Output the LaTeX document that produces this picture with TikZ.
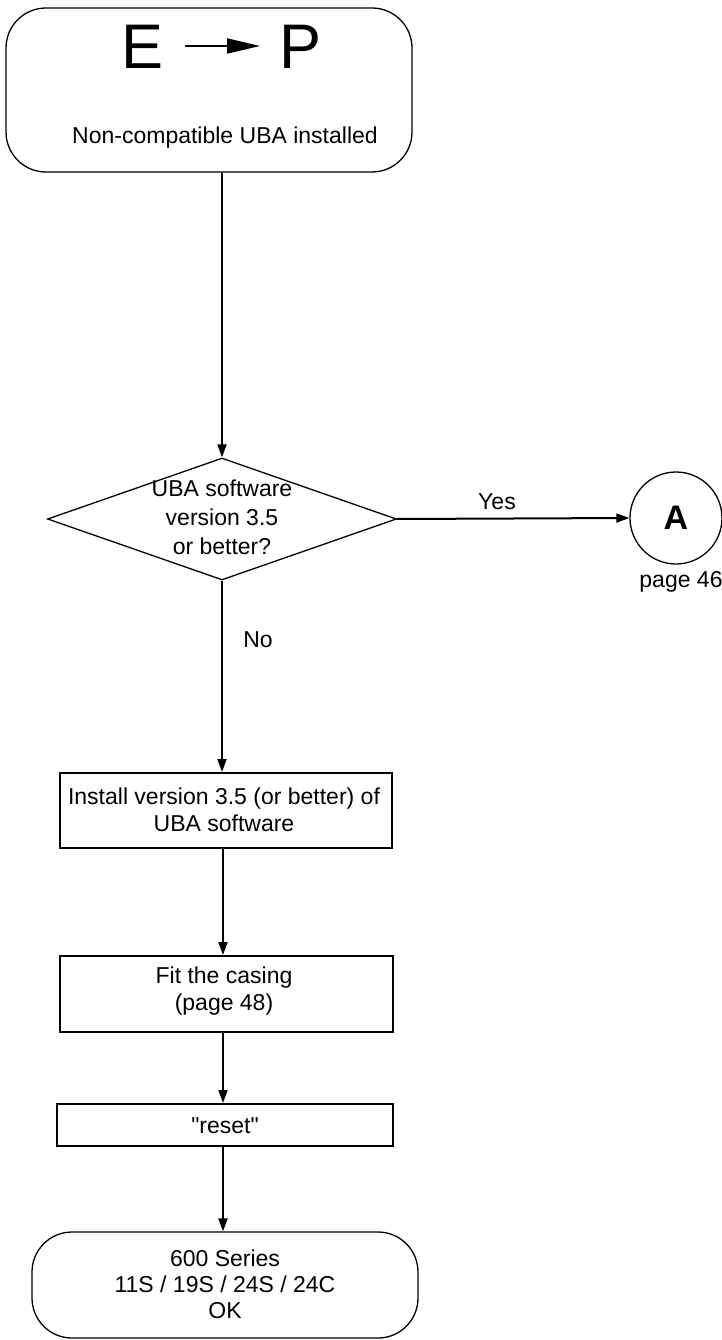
\documentclass[tikz,border=0pt]{standalone}
\usepackage{fontspec}
\setmainfont{Liberation Sans}
\newfontfamily\plainsans{Liberation Sans}
\usetikzlibrary{shapes.geometric,arrows.meta}
\begin{document}
\begin{tikzpicture}[x=1pt,y=-1pt,
  txt/.style={font=\fontsize{23}{27}\selectfont, align=center, inner sep=0pt},
  terminal/.style={draw, line width=1.3pt, rounded corners=40pt, inner sep=0pt},
  procbox/.style={draw, line width=2pt, inner sep=0pt},
  decision/.style={draw, diamond, line width=1.3pt, inner sep=0pt},
  connector/.style={circle, draw, line width=1.3pt, inner sep=0pt, minimum size=92pt},
  flow/.style={line width=2pt, -{Triangle[length=13pt,width=9pt]}}
]
\useasboundingbox (0,0) rectangle (721,1340);

% start terminal
\node[terminal, minimum width=406pt, minimum height=164pt] (start) at (209,90) {};
\node[inner sep=0pt, font=\fontsize{63}{63}\selectfont] (E) at (143,47) {E};
\node[inner sep=0pt, font=\fontsize{63}{63}\selectfont] (P) at (301,47) {P};
\draw[line width=2pt, -{Triangle[length=33pt,width=15pt]}] (185,46) -- (260,46);
\node[txt] (starttxt) at (225,138) {Non-compatible UBA installed};

% decision
\node[decision, minimum width=349pt, minimum height=122pt] (dec) at (222,519) {};
\node[txt, font=\fontsize{23}{29}\selectfont] (dectxt) at (222,517) {UBA software\\version 3.5\\or better?};

% connector A
\node[connector] (A) at (676,518) {};
\node[inner sep=0pt, font=\fontsize{34}{34}\selectfont\bfseries] (Atxt) at (676,518) {A};
\node[txt] (page) at (681,582) {page 46};

% process boxes
\node[procbox, minimum width=332pt, minimum height=75pt] (install) at (226,810.5) {};
\node[txt] (installtxt) at (224,810) {Install version 3.5 (or better) of\\UBA software};

\node[procbox, minimum width=333pt, minimum height=76pt] (fit) at (226.5,994) {};
\node[txt] (fittxt) at (224,991) {Fit the casing\\(page 48)};

\node[procbox, minimum width=336pt, minimum height=42pt] (reset) at (225,1125) {};
\node[txt, font=\fontsize{23}{27}\plainsans] (resettxt) at (225,1126) {"reset"};

% end terminal
\node[terminal, minimum width=386pt, minimum height=106pt] (final) at (225,1285) {};
\node[txt, font=\fontsize{23}{26}\selectfont] (finaltxt) at (225,1284) {600 Series\\11S / 19S / 24S / 24C\\OK};

% flows
\draw[flow] (start.south -| dec.north) -- (dec.north);
\draw[flow] (dec.east) -- (A.west);
\node[txt] (yes) at (497,502) {Yes};
\draw[flow] (dec.south) -- (dec.south |- install.north);
\node[txt] (no) at (258,640) {No};
\draw[flow] (install.south -| 223,0) -- (fit.north -| 223,0);
\draw[flow] (fit.south -| 223,0) -- (reset.north -| 223,0);
\draw[flow] (reset.south -| 223,0) -- (final.north -| 223,0);
\end{tikzpicture}
\end{document}
